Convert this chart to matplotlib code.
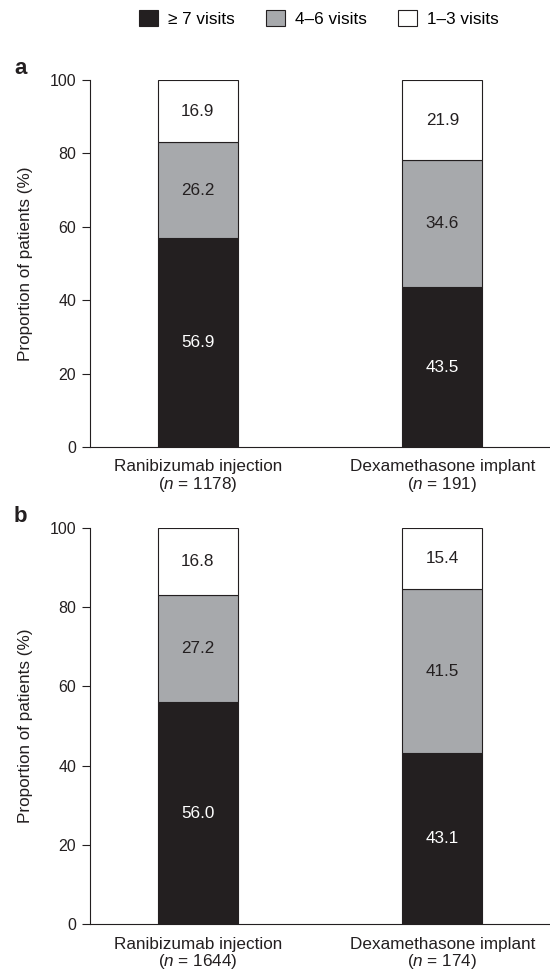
import matplotlib
matplotlib.use("Agg")
import matplotlib.pyplot as plt
import numpy as np
from matplotlib.patches import Patch

plt.rcParams['font.family'] = ['Liberation Sans', 'DejaVu Sans']
plt.rcParams['mathtext.fontset'] = 'custom'
plt.rcParams['mathtext.rm'] = 'Liberation Sans'
plt.rcParams['mathtext.it'] = 'Liberation Sans:italic'

# data
groups = ['Ranibizumab injection', 'Dexamethasone implant']
series = ['\u2265 7 visits', '4\u20136 visits', '1\u20133 visits']
n_a = [1178, 191]
n_b = [1644, 174]
panel_a = {
    'ge7': [56.9, 43.5],
    'mid': [26.2, 34.6],
    'low': [16.9, 21.9],
}
panel_b = {
    'ge7': [56.0, 43.1],
    'mid': [27.2, 41.5],
    'low': [16.8, 15.4],
}

colors = ['#231f20', '#a7a9ac', '#ffffff']
txt_colors = ['white', '#231f20', '#231f20']
ink = '#231f20'

fig = plt.figure(figsize=(5.5, 9.76), dpi=100)
ax_a = fig.add_axes([90 / 550, 1 - 447 / 976, 460 / 550, 367 / 976])
ax_b = fig.add_axes([90 / 550, 1 - 924 / 976, 460 / 550, 396 / 976])


def draw_panel(ax, data, ns):
    x = np.arange(len(groups))
    bottom = np.zeros(len(groups))
    for key, c, tc in zip(['ge7', 'mid', 'low'], colors, txt_colors):
        vals = np.array(data[key])
        ax.bar(x, vals, 0.327, bottom=bottom, color=c,
               edgecolor=ink, linewidth=0.8, zorder=2)
        for xi, b, v in zip(x, bottom, vals):
            ax.text(xi, b + v / 2, f'{v:.1f}', ha='center', va='center',
                    color=tc, fontsize=12.3)
        bottom += vals
    ax.set_xlim(-0.44, 1.44)
    ax.set_ylim(0, 100)
    ax.set_yticks(range(0, 101, 20))
    ax.set_xticks(x)
    ax.set_xticklabels([f'{g}\n($n$ = {n})' for g, n in zip(groups, ns)],
                       fontsize=12.3, linespacing=1.05, color=ink)
    ax.tick_params(axis='x', length=0, pad=9)
    ax.tick_params(axis='y', length=6, width=0.8, labelsize=11.5, pad=4,
                   colors=ink)
    for s in ['top', 'right']:
        ax.spines[s].set_visible(False)
    for s in ['left', 'bottom']:
        ax.spines[s].set_linewidth(0.8)
        ax.spines[s].set_color(ink)
    ax.set_ylabel('Proportion of patients (%)', fontsize=12.3, labelpad=12,
                  color=ink)


draw_panel(ax_a, panel_a, n_a)
draw_panel(ax_b, panel_b, n_b)

fig.text(14 / 550, 1 - 68 / 976, 'a', fontsize=16, fontweight='bold',
         ha='left', va='center', color=ink)
fig.text(14 / 550, 1 - 516 / 976, 'b', fontsize=16, fontweight='bold',
         ha='left', va='center', color=ink)

handles = [Patch(facecolor=c, edgecolor=ink, linewidth=0.8) for c in colors]
fig.legend(handles, series, loc='center', bbox_to_anchor=(319 / 550, 1 - 18.5 / 976),
           ncol=3, frameon=False, fontsize=12.3, handlelength=1.1,
           handleheight=1.1, handletextpad=0.59, columnspacing=1.82,
           borderpad=0, borderaxespad=0)

fig.savefig('out.png', dpi=100)
